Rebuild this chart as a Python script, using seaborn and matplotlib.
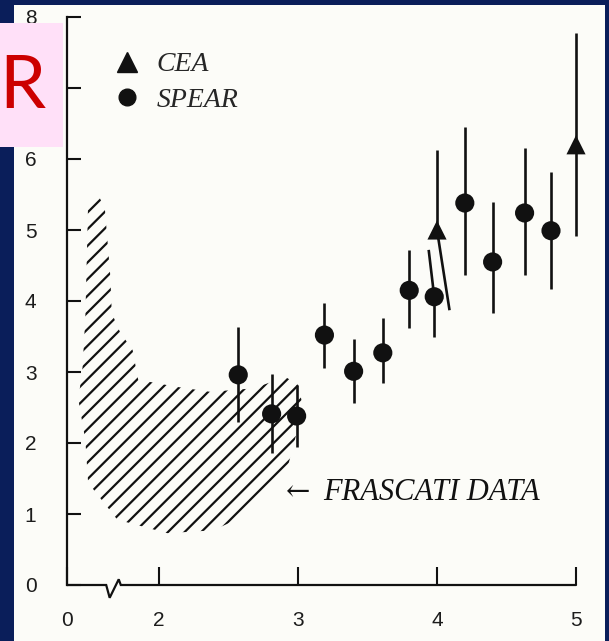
import matplotlib
matplotlib.use("Agg")
import matplotlib.pyplot as plt
from matplotlib.patches import Rectangle
from matplotlib.lines import Line2D
import seaborn as sns
import pandas as pd

# ---- data -------------------------------------------------------------
spear_x = [2.57, 2.81, 2.99, 3.19, 3.40, 3.61, 3.80, 3.98, 4.20, 4.40, 4.63, 4.82]
spear_r = [2.96, 2.41, 2.38, 3.52, 3.01, 3.27, 4.15, 4.06, 5.38, 4.55, 5.24, 4.99]
spear_hi = [3.63, 2.97, 2.82, 3.97, 3.46, 3.76, 4.72, 4.72, 6.45, 5.39, 6.15, 5.82]
spear_lo = [2.30, 1.86, 1.94, 3.06, 2.56, 2.85, 3.62, 3.49, 4.37, 3.83, 4.37, 4.17]
# horizontal drift of the hand-drawn bar tips (top, bottom)
spear_tip_dx = [(0, 0)] * 7 + [(-0.04, 0)] + [(0, 0)] * 4

cea_x = [4.00, 5.00]
cea_r = [5.00, 6.20]
cea_hi = [6.13, 7.77]
cea_lo = [3.87, 4.92]
cea_tip_dx = [(0, 0.09), (0, 0)]

# outline of the Frascati band
frascati_x = [1.49, 1.55, 1.61, 1.65, 1.66, 1.72, 1.81, 1.85, 2.13, 2.37, 2.68,
              2.91, 3.00, 3.03, 2.99, 2.92, 2.60, 2.39, 2.06, 1.70, 1.49, 1.47,
              1.42, 1.45, 1.47]
frascati_r = [5.38, 5.54, 5.31, 4.34, 3.83, 3.56, 3.31, 2.89, 2.79, 2.72, 2.77,
              2.93, 2.82, 2.56, 2.14, 1.62, 0.96, 0.77, 0.73, 0.92, 1.44, 2.04,
              2.61, 3.07, 3.77]

x_origin = 1.338          # broken axis: the origin is labelled 0
x_ticks = [x_origin, 2, 3, 4, 5]
x_tick_labels = ["0", "2", "3", "4", "5"]
y_ticks = [0, 1, 2, 3, 4, 5, 6, 7, 8]
y_tick_labels = ["0", "1", "2", "3", "4", "5", "6", "", "8"]

experiments = ["SPEAR"] * len(spear_x) + ["CEA"] * len(cea_x)
df = pd.DataFrame({
    "energy": spear_x + cea_x,
    "R": spear_r + cea_r,
    "experiment": experiments,
})

# ---- style ------------------------------------------------------------
navy = "#0a1e5a"
paper = "#fcfcf8"
ink = "#111111"

sns.set_style("white")
plt.rcParams["font.family"] = ["Liberation Sans", "DejaVu Sans"]
plt.rcParams["hatch.linewidth"] = 1.6
plt.rcParams["hatch.color"] = ink

W, H = 609, 641
fig = plt.figure(figsize=(W / 100, H / 100), dpi=100)
fig.patch.set_facecolor(navy)
fig.patches.append(Rectangle((14 / W, 0), (605 - 14) / W, 636 / H,
                             transform=fig.transFigure, facecolor=paper,
                             edgecolor="none", zorder=-10))

xmin, xmax = x_origin, 5.03
ymin, ymax = 0, 8.1
px_per_x, px_per_y = 139, 71
ax = fig.add_axes([67 / W, 56 / H,
                   (xmax - xmin) * px_per_x / W, (ymax - ymin) * px_per_y / H])
ax.set_zorder(1)
ax.set_facecolor("none")
ax.set_xlim(xmin, xmax)
ax.set_ylim(ymin, ymax)

# hatched band
ax.fill(frascati_x, frascati_r, facecolor="none", edgecolor=ink,
        linewidth=0, hatch="//", zorder=1)

# error bars
def draw_bars(xs, ys, his, los, tips):
    for x, y, hi, lo, (dtop, dbot) in zip(xs, ys, his, los, tips):
        ax.plot([x + dtop, x], [hi, y], color=ink, lw=1.9,
                solid_capstyle="butt", clip_on=False, zorder=2)
        ax.plot([x, x + dbot], [y, lo], color=ink, lw=1.9,
                solid_capstyle="butt", clip_on=False, zorder=2)

draw_bars(spear_x, spear_r, spear_hi, spear_lo, spear_tip_dx)
draw_bars(cea_x, cea_r, cea_hi, cea_lo, cea_tip_dx)

sns.scatterplot(data=df, x="energy", y="R", style="experiment",
                markers={"SPEAR": "o", "CEA": "^"}, s=190, color=ink,
                edgecolor="none", legend=False, ax=ax, zorder=3, clip_on=False)

# axes
for side in ("top", "right", "bottom"):
    ax.spines[side].set_visible(False)
ax.spines["left"].set_color(ink)
ax.spines["left"].set_linewidth(1.6)
ax.spines["left"].set_bounds(0, 8)

# x axis line with the break symbol
axis_x = [x_origin, 1.62, 1.645, 1.71, 1.725, 5.0]
axis_y = [0, 0, -0.18, 0.08, 0, 0]
ax.plot(axis_x, axis_y, color=ink, lw=1.6, clip_on=False, zorder=2,
        solid_joinstyle="miter")

ax.set_xticks(x_ticks)
ax.set_xticklabels(x_tick_labels)
ax.set_yticks(y_ticks)
ax.set_yticklabels(y_tick_labels)
ax.tick_params(axis="x", bottom=True, direction="in", length=13, width=1.5,
               color=ink, labelsize=15, labelcolor="#1c1c1c", pad=19)
ax.tick_params(axis="y", left=True, direction="in", length=10, width=1.5,
               color=ink, labelsize=15, labelcolor="#1c1c1c", pad=22)
ax.set_xlabel("")
ax.set_ylabel("")

serif_it = dict(family=["Liberation Serif", "DejaVu Serif"], style="italic",
                size=20)

# legend
handles = [
    Line2D([], [], marker="^", linestyle="none", color=ink, markersize=14),
    Line2D([], [], marker="o", linestyle="none", color=ink, markersize=12),
]
leg = ax.legend(handles, ["CEA", "SPEAR"], loc="upper left",
                bbox_to_anchor=(112 / W, 1 - 52 / H),
                bbox_transform=fig.transFigure, frameon=False,
                prop=serif_it, handlelength=1.1, handletextpad=0.5,
                labelspacing=0.35, borderpad=0, borderaxespad=0)

# band annotation
ax.text(2.915, 1.31, "\u2190", family=["DejaVu Serif"], size=21,
        color=ink, va="center", ha="left")
ax.text(3.18, 1.30, "FRASCATI DATA", color=ink, va="center", ha="left",
        family=["Liberation Serif", "DejaVu Serif"], style="italic", size=22)

# quantity label box
fig.patches.append(Rectangle((0, 1 - 147 / H), 63 / W, 124 / H,
                             transform=fig.transFigure, facecolor="#ffe0f8",
                             edgecolor="none", zorder=10))
fig.text(22 / W, 1 - 88 / H, "R", color="#cc0000", fontsize=53,
         family=["Lato", "DejaVu Sans"], ha="center", va="center", zorder=11)

fig.savefig("out.png", dpi=100, facecolor=navy)
